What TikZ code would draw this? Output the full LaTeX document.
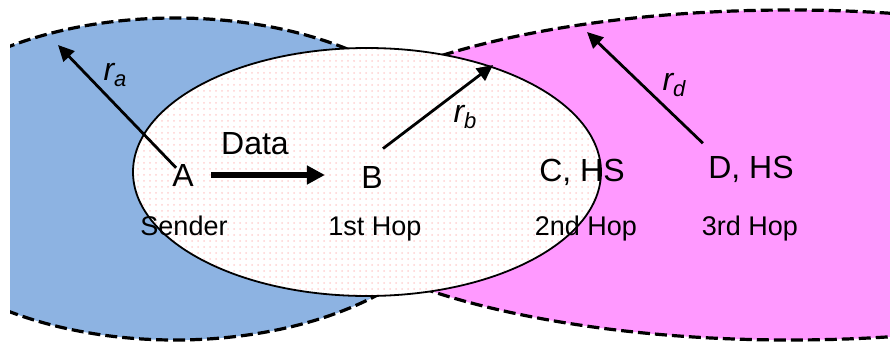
\documentclass[tikz,border=0pt]{standalone}
\usepackage{fontspec}
\setmainfont{Liberation Sans}
\usetikzlibrary{arrows.meta, patterns}
\definecolor{zoneblue}{RGB}{141,179,226}
\definecolor{zonepink}{RGB}{255,153,255}

\begin{document}
\begin{tikzpicture}[x=0.5pt, y=-0.5pt,
    station/.style={font=\fontsize{16}{19}\selectfont, inner sep=1pt, anchor=base},
    hop/.style={font=\fontsize{13.5}{16}\selectfont, inner sep=1pt, anchor=base},
    rname/.style={font=\fontsize{16}{19}\selectfont\itshape, inner sep=0pt, anchor=base},
    zone/.style={draw=black, line width=1.6pt, dash pattern=on 6pt off 2.5pt},
    rarrow/.style={line width=1.4pt, -{Triangle[length=8pt, width=7.5pt]}},
    dataarrow/.style={line width=3pt, -{Triangle[length=9pt, width=9pt]}}]
  \useasboundingbox (0,0) rectangle (890,343);
  \begin{scope}
    \clip (10,0) rectangle (890,343);
    \path[zone, fill=zoneblue] (175,179) ellipse [x radius=146pt, y radius=80.5pt];
    \path[zone, fill=zonepink] (790,175) ellipse [x radius=252.5pt, y radius=82.5pt];
  \end{scope}
  % range of B
  \fill[white] (367,172) ellipse [x radius=117pt, y radius=62pt];
  \path[pattern=dots, pattern color=red!18] (367,172) ellipse [x radius=117pt, y radius=62pt];
  \draw[line width=0.9pt] (367,172) ellipse [x radius=117pt, y radius=62pt];

  \node[station] (a) at (183,186) {A};
  \node[station] (b) at (372,188) {B};
  \node[station] (c) at (582,181) {C, HS};
  \node[station] (d) at (751,178) {D, HS};
  \node[station] (data) at (255,154) {Data};
  \node[hop] (ha) at (184,235) {Sender};
  \node[hop] (hb) at (375,235) {1st Hop};
  \node[hop] (hc) at (586,235) {2nd Hop};
  \node[hop] (hd) at (750,235) {3rd Hop};

  \coordinate (ra) at (58,45);
  \coordinate (rb) at (493,65);
  \coordinate (rd) at (587,32);
  \draw[rarrow, shorten <=5pt] (a.center) -- (ra);
  \draw[rarrow] ([shift={(5.5pt,7.5pt)}]b.north) -- (rb);
  \draw[rarrow] ([shift={(-1.5pt,5pt)}]d.north west) -- (rd);
  \draw[dataarrow, shorten <=7.5pt, shorten >=17pt] (a.east) -- (a.east -| b.west);

  \node[rname] (la) at (115,80) {r\raisebox{-3pt}{\fontsize{11}{13}\selectfont a}};
  \node[rname] (lb) at (465,122) {r\raisebox{-3pt}{\fontsize{11}{13}\selectfont b}};
  \node[rname] (ld) at (674,90) {r\raisebox{-3pt}{\fontsize{11}{13}\selectfont d}};
\end{tikzpicture}
\end{document}
